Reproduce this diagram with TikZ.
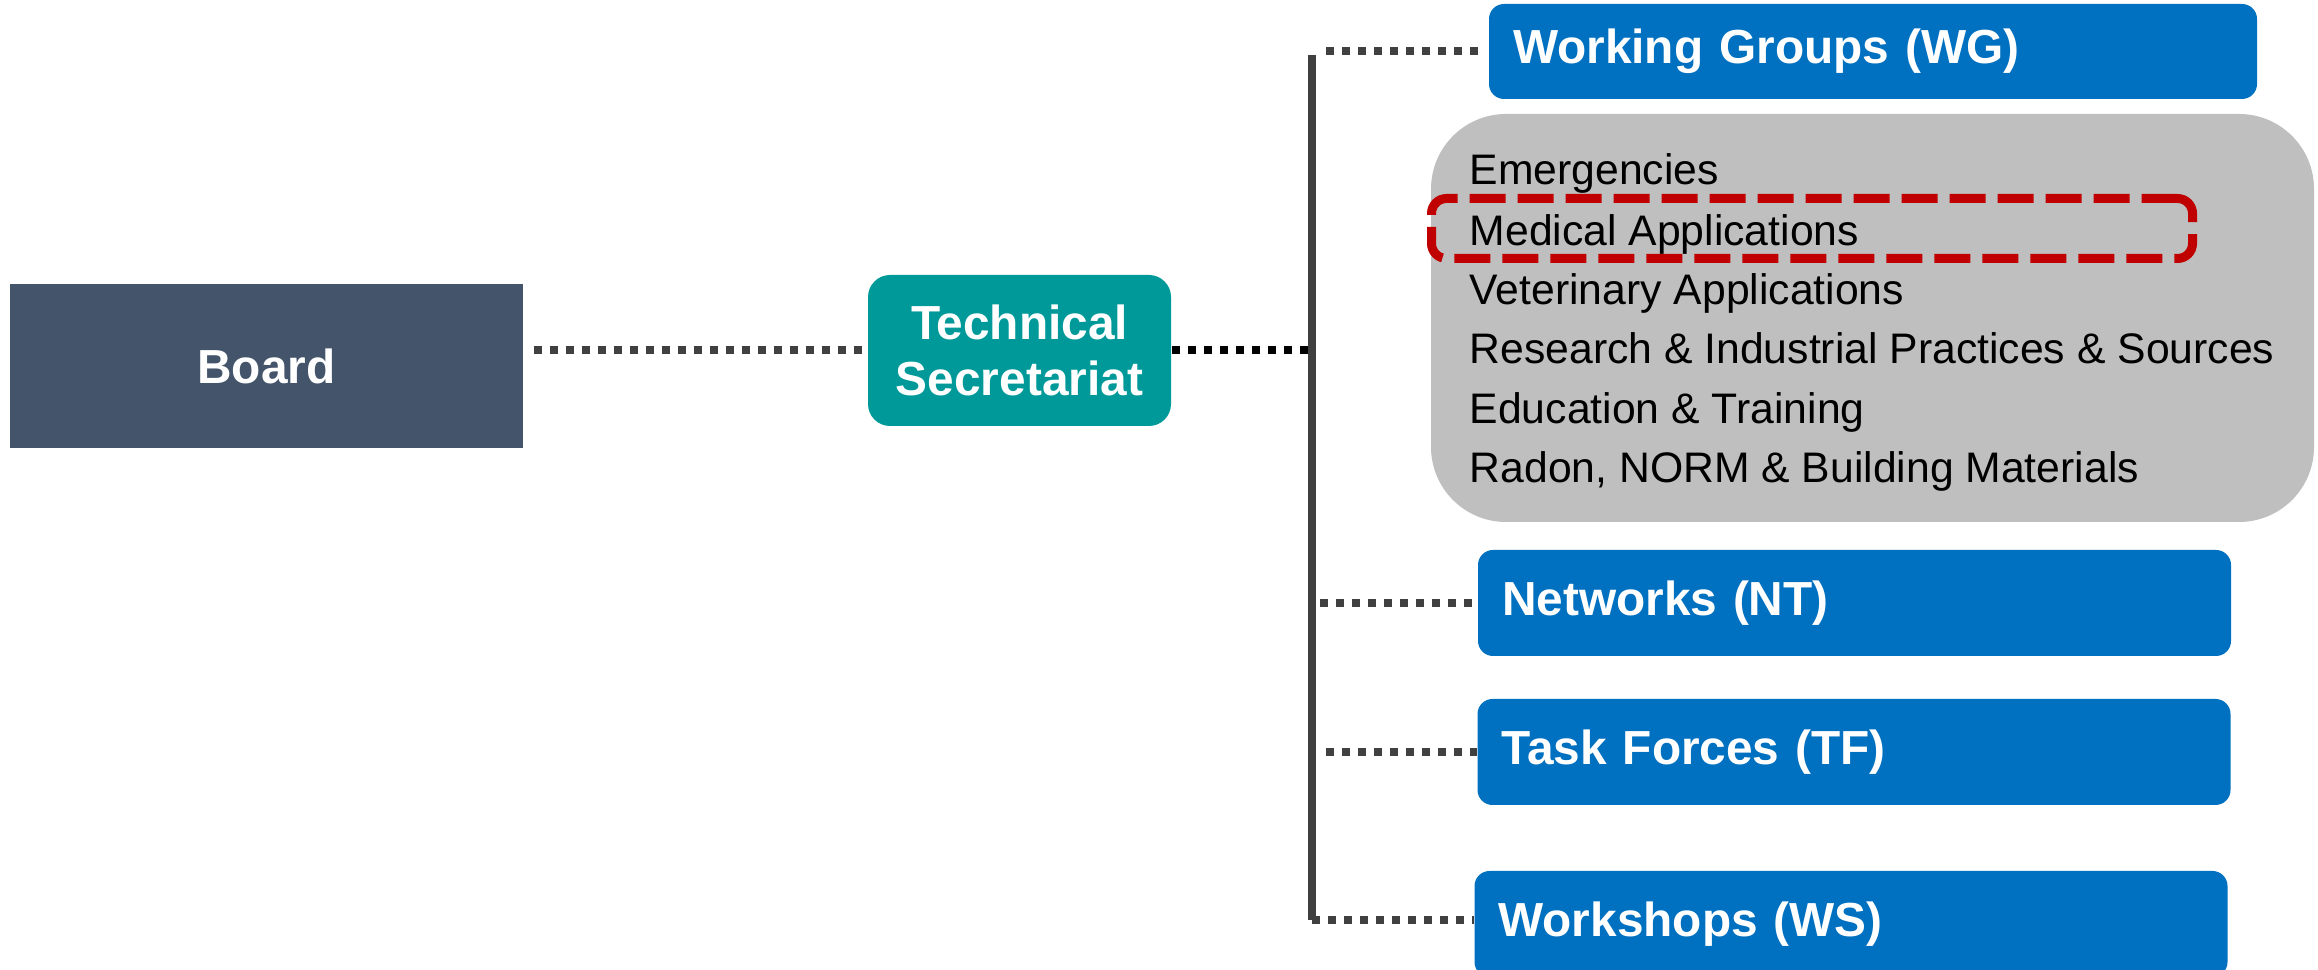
\documentclass[tikz,border=0pt]{standalone}
\usepackage{fontspec}
\setmainfont{Liberation Sans}
\usepackage{tikz}
\usepackage{xcolor}

\definecolor{boardslate}{HTML}{44546A}
\definecolor{secteal}{HTML}{009999}
\definecolor{wgblue}{HTML}{0070C0}
\definecolor{panelgray}{HTML}{BFBFBF}
\definecolor{linkgray}{HTML}{404040}
\definecolor{selred}{HTML}{C00000}

\begin{document}
\begin{tikzpicture}[
    head/.style={font=\fontsize{13.6}{16}\selectfont\bfseries, text=white},
    grpbox/.style={rectangle, rounded corners=0.15cm, fill=wgblue, head, align=left, inner xsep=0.24cm, inner ysep=0pt, text width=7.05cm, minimum height=1.06cm},
    link/.style={draw=linkgray, line width=0.08cm, dash pattern=on 0.08cm off 0.08cm},
    item/.style={anchor=base west, inner sep=0pt, font=\fontsize{12.15}{14}\selectfont}
  ]
  % Variables
  \def \spinex {13.12}
  \def \itemx  {14.69}

  \clip (0,0) rectangle (23.18,9.70);

  % Left side
  \node[rectangle, fill=boardslate, head, minimum width=5.13cm, minimum height=1.64cm] (board) at (2.665,6.04) {Board};
  \node[rectangle, rounded corners=0.22cm, fill=secteal, head, align=center, minimum width=3.03cm, minimum height=1.51cm] (secretariat) at (10.195,6.195) {Technical\\Secretariat};

  % Spine
  \coordinate (spinetop) at (\spinex,9.15);
  \coordinate (spinebot) at (\spinex,0.50);
  \draw[linkgray, line width=0.08cm] (spinetop) -- (spinebot);

  % Groups
  \node[grpbox, text width=7.2cm, minimum height=0.95cm] (wg) at (18.73,9.185) {Working Groups (WG)};
  \node[rectangle, rounded corners=0.75cm, fill=panelgray, minimum width=8.83cm, minimum height=4.08cm] (wgpanel) at (18.725,6.52) {};
  \node[grpbox] (nt) at (18.545,3.67) {Networks (NT)};
  \node[grpbox] (tf) at (18.54,2.18) {Task Forces (TF)};
  \node[grpbox] (ws) at (18.51,0.46) {Workshops (WS)};

  % Working group list
  \node[rectangle, draw=selred, line width=0.09cm, dash pattern=on 0.36cm off 0.12cm, rounded corners=0.15cm, minimum width=7.61cm, minimum height=0.6cm] (medsel) at (18.12,7.415) {};
  \node[item] (emerg) at (\itemx,7.85) {Emergencies};
  \node[item] (medical) at (\itemx,7.243) {Medical Applications};
  \node[item] (vet) at (\itemx,6.655) {Veterinary Applications};
  \node[item] (research) at (\itemx,6.06) {Research \& Industrial Practices \& Sources};
  \node[item] (educ) at (\itemx,5.46) {Education \& Training};
  \node[item] (radon) at (\itemx,4.87) {Radon, NORM \& Building Materials};

  % Connectors
  \draw[link, shorten <=0.1cm] (board.east |- secretariat.west) -- (secretariat.west);
  \draw[link, draw=black] (secretariat.east) -- (spinetop |- secretariat.east);
  \draw[link, shorten <=0.14cm, shorten >=0.1cm] (spinetop |- wg.west) -- (wg.west);
  \draw[link, shorten <=0.08cm] (spinetop |- nt.west) -- (nt.west);
  \draw[link, shorten <=0.14cm] (spinetop |- tf.west) -- (tf.west);
  \draw[link] (spinebot) -- (spinebot -| ws.west);

\end{tikzpicture}
\end{document}
